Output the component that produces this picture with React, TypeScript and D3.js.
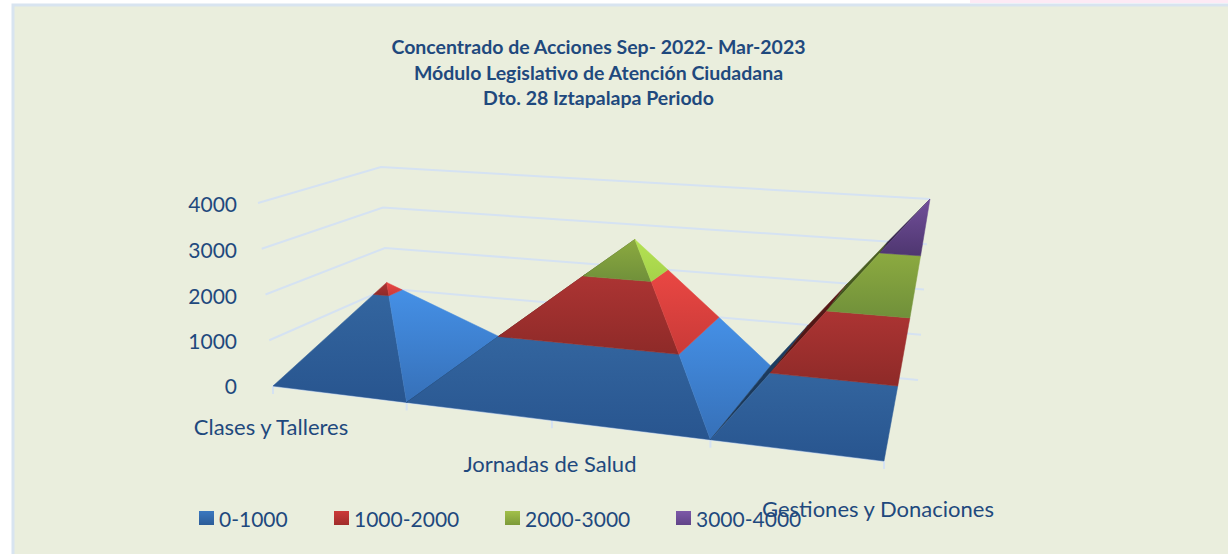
import * as d3 from "d3";

const WIDTH = 1228;
const HEIGHT = 554;
const FONT = "Lato, 'Open Sans', sans-serif";
const INK = "#1f497d";
const GRID = "#d5e2f2";

const titleLines = [
  "Concentrado de Acciones Sep- 2022- Mar-2023",
  "Módulo Legislativo de Atención Ciudadana",
  "Dto. 28 Iztapalapa Periodo",
];
const categories = ["Clases y Talleres", "", "Jornadas de Salud", "", "Gestiones y Donaciones"];
const frontValues = [0, 0, 0, 0, 0];
const backValues = [1150, 0, 2650, 0, 4000];
const levels = [0, 1000, 2000, 3000, 4000];
const bandNames = ["0-1000", "1000-2000", "2000-3000", "3000-4000"];

// gradient stops per band: [top, bottom] for each kind of facet
const frontShade = [
  ["#33659f", "#28558f"],
  ["#ac3433", "#8e2a28"],
  ["#8caa40", "#70903a"],
  ["#724f9a", "#4e3670"],
];
const sideShade = [
  ["#4590e6", "#3670b8"],
  ["#ea4743", "#c93a38"],
  ["#b4e252", "#a5d24a"],
  ["#8a62b8", "#704f96"],
];
const backShade = [
  ["#1c3f66", "#1a3554"],
  ["#5a1a18", "#4a1414"],
  ["#4f6424", "#3f501c"],
  ["#3c2a56", "#33234a"],
];
const legendShade = [
  ["#3b78c0", "#2c5c98"],
  ["#cc3a38", "#a02c2a"],
  ["#a2c04a", "#7c9a38"],
  ["#7d59a8", "#614488"],
];

// the box of the 3D plot on screen
const corners = {
  fl0: [273, 386],
  fr0: [884, 461],
  bl0: [389, 329],
  br0: [918, 380],
  flT: [258, 203],
  frT: [902, 243],
  blT: [381, 167],
  brT: [930, 199],
};

// perspective weights, from the tick spacing along the floor
const GX = -0.16;
const GD = 0.167;

const cScale = d3.scaleLinear().domain([0, categories.length - 1]).range([0, 1]);
const vScale = d3.scaleLinear().domain([0, 4000]).range([0, 1]);

type P3 = { c: number; d: number; v: number };

function planePoint(t: number, z: number, a: number[], b: number[], e: number[], f: number[]) {
  const wa = (1 - t) * (1 - z);
  const wb = t * (1 - z) * (1 + GX);
  const we = (1 - t) * z * (1 + GD);
  const wf = t * z * (1 + GX + GD);
  const w = wa + wb + we + wf;
  return [0, 1].map((k) => (wa * a[k] + wb * b[k] + we * e[k] + wf * f[k]) / w);
}

function project({ c, d, v }: P3): [number, number] {
  const t = cScale(c);
  const h = vScale(v);
  const base = planePoint(t, d, corners.fl0, corners.fr0, corners.bl0, corners.br0);
  const top = planePoint(t, d, corners.flT, corners.frT, corners.blT, corners.brT);
  return [base[0] + (top[0] - base[0]) * h, base[1] + (top[1] - base[1]) * h];
}

const front = (c: number): P3 => ({ c, d: 0, v: frontValues[c] });
const back = (c: number): P3 => ({ c, d: 1, v: backValues[c] });

type Face = { pts: P3[]; kind: "front" | "side" | "back"; group: number };

// each cell of the surface splits into two triangles, along the diagonal
// that runs to the higher back value; front triangles sharing a peak are one group
function buildFaces(): Face[] {
  const faces: Face[] = [];
  d3.pairs(d3.range(categories.length)).forEach(([a, b], i) => {
    if (backValues[a] > backValues[b]) {
      faces.push({ pts: [front(a), front(b), back(a)], kind: "front", group: a });
      faces.push({ pts: [front(b), back(b), back(a)], kind: "side", group: 10 + i });
    } else {
      faces.push({ pts: [front(a), back(a), back(b)], kind: "back", group: 20 + i });
      faces.push({ pts: [front(a), front(b), back(b)], kind: "front", group: b });
    }
  });
  return faces;
}

// keep the part of a polygon on one side of a value level
function clip(pts: P3[], level: number, above: boolean): P3[] {
  const inside = (p: P3) => (above ? p.v >= level : p.v <= level);
  const out: P3[] = [];
  pts.forEach((p, i) => {
    const q = pts[(i + 1) % pts.length];
    if (inside(p)) out.push(p);
    if (inside(p) !== inside(q)) {
      const s = (level - p.v) / (q.v - p.v);
      out.push({ c: p.c + (q.c - p.c) * s, d: p.d + (q.d - p.d) * s, v: level });
    }
  });
  return out;
}

const pathOf = d3.line<[number, number]>().curve(d3.curveLinearClosed);
const openPath = d3.line<[number, number]>();

function Gradient({ id, stops }: { id: string; stops: string[] }) {
  return (
    <linearGradient id={id} x1="0" y1="0" x2="0" y2="1">
      <stop offset="0" stopColor={stops[0]} />
      <stop offset="1" stopColor={stops[1]} />
    </linearGradient>
  );
}

export default function App() {
  const groups = Array.from(d3.group(buildFaces(), (f) => f.group).values());
  const shades = { front: frontShade, side: sideShade, back: backShade };
  const legendX = [199, 334, 505, 676];

  return (
    <div style={{ position: "fixed", left: 0, top: 0 }}>
      <svg width={WIDTH} height={HEIGHT} style={{ display: "block", background: "#fff" }} fontFamily={FONT}>
        <defs>
          {(["front", "side", "back"] as const).map((kind) =>
            shades[kind].map((s, i) => <Gradient key={kind + i} id={`${kind}-${i}`} stops={s} />)
          )}
          {legendShade.map((s, i) => (
            <Gradient key={i} id={`legend-${i}`} stops={s} />
          ))}
        </defs>

        <rect x={970} y={0} width={258} height={3} fill="#fdeaf5" />
        <rect x={13} y={5} width={WIDTH} height={HEIGHT} fill="#eaeedd" stroke="#d8e4f0" strokeWidth={3} />

        {titleLines.map((line, i) => (
          <text key={line} x={598.5} y={54 + i * 25.5} textAnchor="middle" fontSize={19.5} fontWeight={700} fill={INK}>
            {line}
          </text>
        ))}

        {/* wall grid */}
        {levels.map((v) => (
          <path
            key={v}
            d={openPath([project({ c: 0, d: 0, v }), project({ c: 0, d: 1, v }), project({ c: 4, d: 1, v })])!}
            fill="none"
            stroke={GRID}
            strokeWidth={2}
          />
        ))}

        {/* front axis and ticks */}
        <path d={openPath([project(front(0)), project(front(4))])!} stroke={GRID} strokeWidth={2} fill="none" />
        {categories.map((_, c) => {
          const [x, y] = project(front(c));
          return <line key={c} x1={x} x2={x} y1={y} y2={y + 8} stroke={GRID} strokeWidth={2} />;
        })}

        {/* surface, cut into value bands */}
        {groups.map((faces) =>
          d3.pairs(levels).map(([lo, hi], b) => {
            const parts = faces
              .map((face) => clip(clip(face.pts, lo, true), hi, false))
              .filter((part) => part.length > 2);
            if (!parts.length) return null;
            const fill = `url(#${faces[0].kind}-${b})`;
            return (
              <path
                key={`${faces[0].group}-${b}`}
                d={parts.map((part) => pathOf(part.map(project))).join("")}
                fill={fill}
                stroke={fill}
                strokeWidth={0.5}
              />
            );
          })
        )}

        {levels.map((v) => (
          <text key={v} x={237} y={project({ c: 0, d: 0, v })[1] + (v ? 9 : 8)} textAnchor="end" fontSize={21} fill={INK}>
            {v}
          </text>
        ))}

        {categories.map((name, c) => {
          const [x, y] = project(front(c));
          return name ? (
            <text
              key={name}
              x={x - 2 - (c > 3 ? 4 : 0)}
              y={y + 49 + (y - 386) * 0.09}
              textAnchor="middle"
              fontSize={22}
              fill={INK}>
              {name}
            </text>
          ) : null;
        })}

        {bandNames.map((name, i) => (
          <g key={name}>
            <rect x={legendX[i]} y={511} width={15} height={14} fill={`url(#legend-${i})`} />
            <text x={legendX[i] + 20} y={527} fontSize={21} fill={INK}>
              {name}
            </text>
          </g>
        ))}
      </svg>
    </div>
  );
}
